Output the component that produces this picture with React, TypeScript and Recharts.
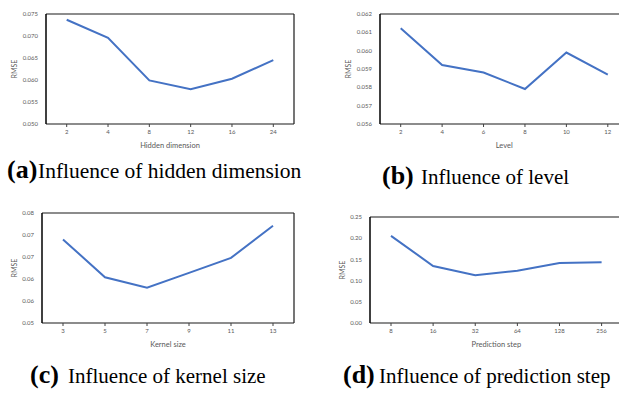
import React from 'react';
import { LineChart, Line, XAxis, YAxis, CartesianGrid } from 'recharts';

// (a) hidden dimension
const hiddenDims = ['2', '4', '8', '12', '16', '24'];
const rmseHidden = [0.0737, 0.0696, 0.0599, 0.0579, 0.0603, 0.0645];
const hiddenTicks = [0.05, 0.055, 0.06, 0.065, 0.07, 0.075];

// (b) level
const levels = ['2', '4', '6', '8', '10', '12'];
const rmseLevel = [0.06122, 0.05922, 0.05881, 0.05791, 0.0599, 0.05869];
const levelTicks = [0.056, 0.057, 0.058, 0.059, 0.06, 0.061, 0.062];

// (c) kernel size
const kernelSizes = ['3', '5', '7', '9', '11', '13'];
const rmseKernel = [0.069, 0.0604, 0.058, 0.0614, 0.0648, 0.0721];
const kernelTicks = [0.05, 0.055, 0.06, 0.065, 0.07, 0.075];
const kernelTickLabels = ['0.05', '0.06', '0.06', '0.07', '0.07', '0.08'];

// (d) prediction step
const predSteps = ['8', '16', '32', '64', '128', '256'];
const rmsePred = [0.2055, 0.1345, 0.1125, 0.1235, 0.1415, 0.143];
const predTicks = [0, 0.05, 0.1, 0.15, 0.2, 0.25];

const BLUE = '#4472C4';
const AXIS_FONT = 'Lato, "Open Sans", sans-serif';
const GREY = '#595959';

interface PanelProps {
  left: number;
  top: number;
  width: number;
  height: number;
  margin: { top: number; right: number; left: number; bottom: number };
  yWidth: number;
  xHeight: number;
  pad: number;
  cats: string[];
  vals: number[];
  ticks: number[];
  fmt: (v: number, i: number) => string;
  xTitle: string;
  titleDy: number;
  yLabelDx: number;
}

function Panel(p: PanelProps) {
  const data = p.cats.map((c, i) => ({ x: c, rmse: p.vals[i] }));
  const domain = [p.ticks[0], p.ticks[p.ticks.length - 1]];
  return (
    <div style={{ position: 'absolute', left: p.left, top: p.top }}>
      <LineChart width={p.width} height={p.height} data={data} margin={p.margin}>
        {/* plot frame: top + right edges */}
        <CartesianGrid
          stroke="#1a1a1a"
          strokeWidth={1.2}
          horizontalCoordinatesGenerator={({ offset }: any) => [offset.top]}
          verticalCoordinatesGenerator={({ offset }: any) => [offset.left + offset.width]}
        />
        <XAxis
          dataKey="x"
          height={p.xHeight}
          interval={0}
          padding={{ left: p.pad, right: p.pad }}
          tickSize={3}
          tickMargin={3}
          tickLine={{ stroke: '#404040' }}
          axisLine={{ stroke: '#1a1a1a', strokeWidth: 1.2 }}
          tick={{ fontSize: 6, fill: GREY, fontFamily: AXIS_FONT }}
          label={{
            value: p.xTitle,
            position: 'center',
            dy: p.titleDy,
            fontSize: 7.5,
            fill: GREY,
            fontFamily: AXIS_FONT,
          }}
        />
        <YAxis
          width={p.yWidth}
          domain={domain}
          ticks={p.ticks}
          allowDataOverflow
          tickFormatter={p.fmt}
          tickLine={false}
          axisLine={{ stroke: '#000', strokeWidth: 1.5 }}
          tick={{ fontSize: 6, fill: GREY, fontFamily: AXIS_FONT }}
          label={{
            value: 'RMSE',
            angle: -90,
            position: 'center',
            dx: p.yLabelDx,
            fontSize: 7,
            fill: GREY,
            fontFamily: AXIS_FONT,
          }}
        />
        <Line
          dataKey="rmse"
          stroke={BLUE}
          strokeWidth={2}
          dot={false}
          isAnimationActive={false}
        />
      </LineChart>
    </div>
  );
}

function Caption({ x, y, tag, tagW, text, size }: { x: number; y: number; tag: string; tagW: number; text: string; size: number }) {
  return (
    <text y={y} fontFamily='"Liberation Serif", "Times New Roman", serif' fill="#000">
      <tspan x={x} fontSize={26} fontWeight="bold">{tag}</tspan>
      <tspan x={x + tagW} fontSize={size}>{text}</tspan>
    </text>
  );
}

export default function App() {
  return (
    <div
      style={{
        position: 'absolute',
        left: 0,
        top: 0,
        width: 619,
        height: 393,
        overflow: 'hidden',
        background: '#fff',
      }}
    >
      <Panel
        left={0}
        top={0}
        width={310}
        height={155}
        margin={{ top: 14, right: 16, left: 0, bottom: 0 }}
        yWidth={46}
        xHeight={31}
        pad={20.7}
        cats={hiddenDims}
        vals={rmseHidden}
        ticks={hiddenTicks}
        fmt={(v) => v.toFixed(3)}
        xTitle="Hidden dimension"
        titleDy={5.5}
        yLabelDx={-8}
      />
      <Panel
        left={310}
        top={0}
        width={330}
        height={155}
        margin={{ top: 14, right: 11.5, left: 0, bottom: 0 }}
        yWidth={70}
        xHeight={31}
        pad={20.7}
        cats={levels}
        vals={rmseLevel}
        ticks={levelTicks}
        fmt={(v) => v.toFixed(3)}
        xTitle="Level"
        titleDy={5.5}
        yLabelDx={4}
      />
      <Panel
        left={0}
        top={200}
        width={310}
        height={155}
        margin={{ top: 13, right: 16, left: 0, bottom: 0 }}
        yWidth={42}
        xHeight={32}
        pad={21}
        cats={kernelSizes}
        vals={rmseKernel}
        ticks={kernelTicks}
        fmt={(_v, i) => kernelTickLabels[i]}
        xTitle="Kernel size"
        titleDy={5}
        yLabelDx={-6}
      />
      <Panel
        left={310}
        top={200}
        width={330}
        height={155}
        margin={{ top: 17, right: 17.4, left: 0, bottom: 0 }}
        yWidth={60}
        xHeight={32}
        pad={21}
        cats={predSteps}
        vals={rmsePred}
        ticks={predTicks}
        fmt={(v) => v.toFixed(2)}
        xTitle="Prediction step"
        titleDy={5}
        yLabelDx={3}
      />
      <svg
        width={619}
        height={393}
        style={{ position: 'absolute', left: 0, top: 0, pointerEvents: 'none' }}
      >
        <Caption x={7} y={178} tag="(a)" tagW={31} size={21.5} text="Influence of hidden dimension" />
        <Caption x={382} y={184} tag="(b)" tagW={39} size={21} text="Influence of level" />
        <Caption x={30} y={383} tag="(c)" tagW={38} size={21} text="Influence of kernel size" />
        <Caption x={343} y={383} tag="(d)" tagW={36} size={21} text="Influence of prediction step" />
      </svg>
    </div>
  );
}
